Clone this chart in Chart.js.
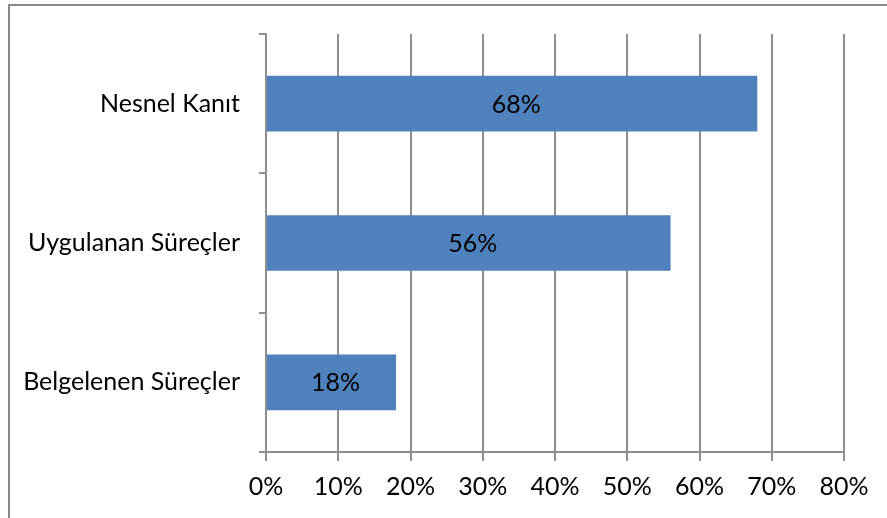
<!DOCTYPE html>
<html>
<head>
<meta charset="utf-8">
<script src="https://cdn.jsdelivr.net/npm/chart.js@4/dist/chart.umd.min.js"></script>
<style>
  html, body { margin: 0; padding: 0; background: #fff; overflow: hidden; }
  #wrap { position: relative; width: 887px; height: 518px; }
  /* cerceve: sadece ust ve sol kenar gorunuyor */
  #frame { position: absolute; left: 8px; top: 4px; width: 900px; height: 540px;
           border-top: 2px solid #8a8a8a; border-left: 2px solid #8a8a8a; box-sizing: border-box; }
  canvas { position: absolute; left: 0; top: 0; }
</style>
</head>
<body>
<div id="wrap">
  <div id="frame"></div>
  <canvas id="bargraph" width="887" height="518"></canvas>
</div>
<script>
// kategoriler ve yuzdeler
const categories = ['Nesnel Kanıt', 'Uygulanan Süreçler', 'Belgelenen Süreçler'];
const values = [68, 56, 18];
const tickValues = [0, 10, 20, 30, 40, 50, 60, 70, 80];

const gridGray = '#8e8e8e';
const fontFamily = 'Lato, "Liberation Sans", sans-serif';

// cubuk ortasina yuzde yazisi
const valueLabels = {
  id: 'valueLabels',
  afterDatasetsDraw(chart) {
    const ctx = chart.ctx;
    const meta = chart.getDatasetMeta(0);
    ctx.save();
    ctx.font = '25px ' + fontFamily;
    ctx.fillStyle = '#000';
    ctx.textAlign = 'center';
    ctx.textBaseline = 'middle';
    meta.data.forEach((bar, i) => {
      const cx = (bar.x + bar.base) / 2 + 4;
      ctx.fillText(values[i] + '%', cx, bar.y + 1);
    });
    ctx.restore();
  }
};

window.addEventListener('load', function () {
  const ctx = document.getElementById('bargraph').getContext('2d');
  new Chart(ctx, {
    type: 'bar',
    plugins: [valueLabels],
    data: {
      labels: categories,
      datasets: [{
        data: values,
        backgroundColor: '#4f81bd',
        borderWidth: 0,
        categoryPercentage: 0.4,
        barPercentage: 1
      }]
    },
    options: {
      indexAxis: 'y',
      responsive: false,
      animation: false,
      layout: { padding: { left: 0, right: 43, top: 33, bottom: 0 } },
      plugins: {
        legend: { display: false },
        tooltip: { enabled: false }
      },
      scales: {
        x: {
          min: 0,
          max: 80,
          afterFit(scale) { scale.height = 66; },
          afterBuildTicks(scale) { scale.ticks = tickValues.map(v => ({ value: v })); },
          grid: { color: gridGray, lineWidth: 2, tickLength: 9, drawTicks: true },
          border: { display: true, color: gridGray, width: 2 },
          ticks: {
            color: '#000',
            padding: 11,
            font: { family: fontFamily, size: 25 },
            callback: v => v + '%'
          }
        },
        y: {
          afterFit(scale) { scale.width = 266; },
          grid: { drawOnChartArea: false, color: gridGray, lineWidth: 2, tickLength: 7 },
          border: { display: true, color: gridGray, width: 2 },
          ticks: {
            color: '#000',
            padding: 19,
            font: { family: fontFamily, size: 25 }
          }
        }
      }
    }
  });
});
</script>
</body>
</html>
